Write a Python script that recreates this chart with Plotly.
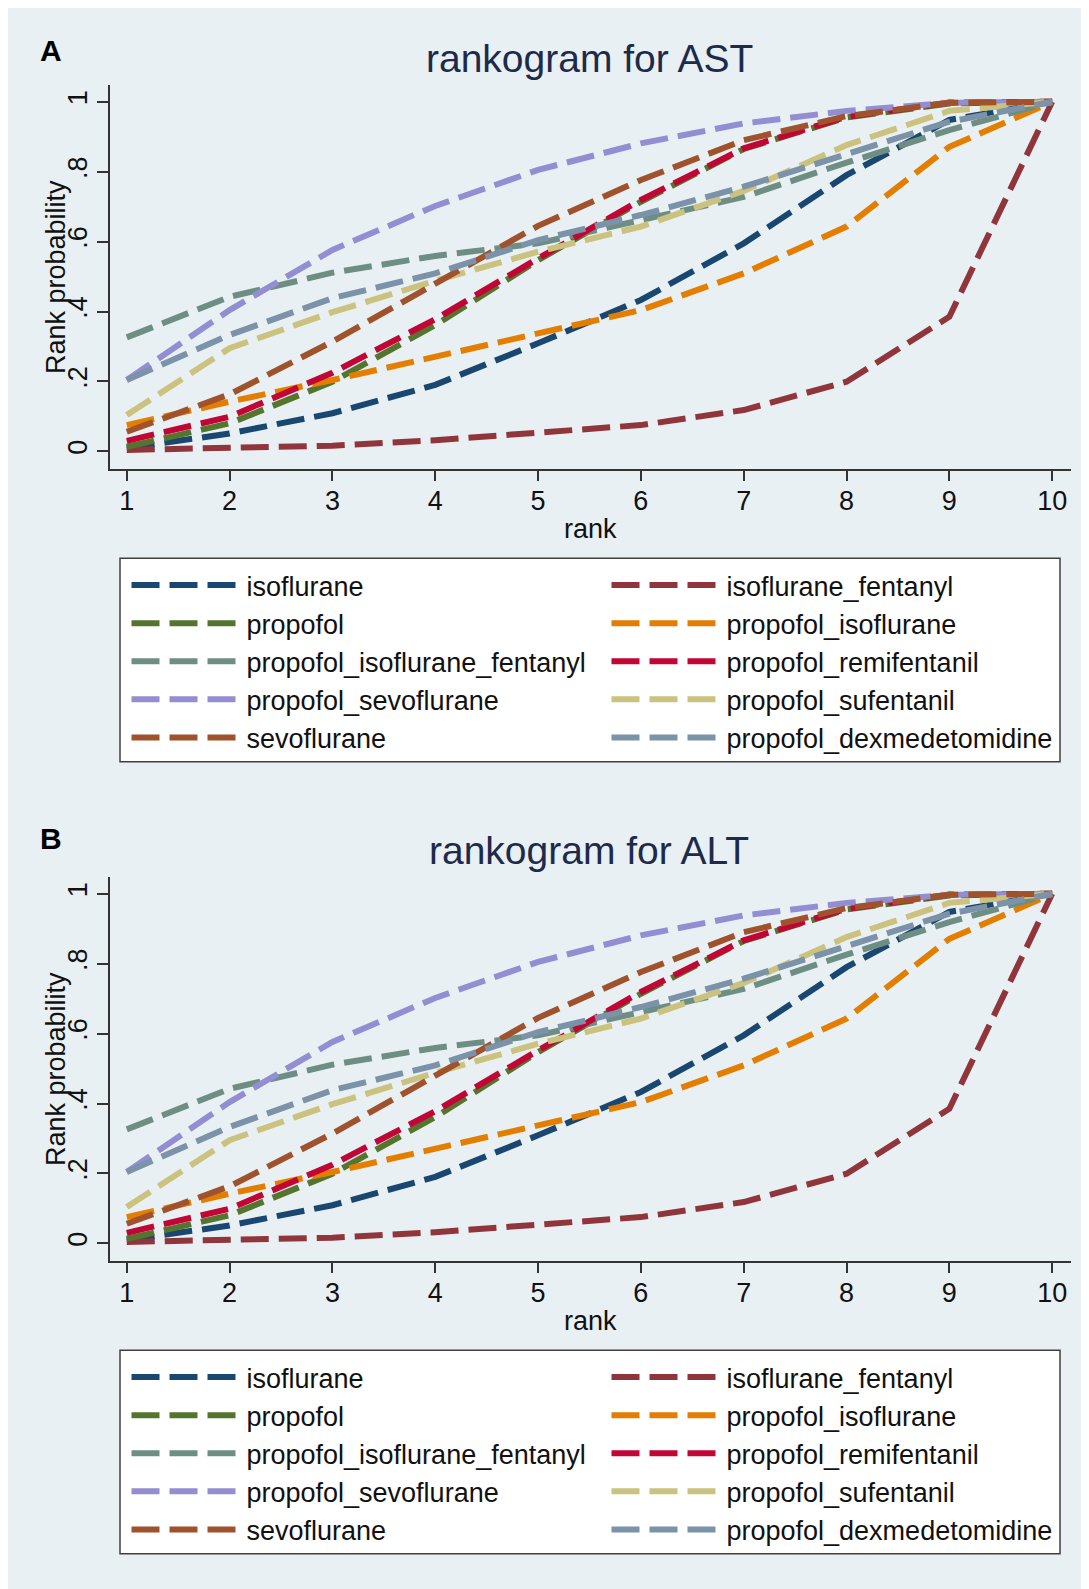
import plotly.graph_objects as go

# The page body adds an 8px margin, so the figure is drawn 8px in from the top-left.
OFF = 8
W, H = 1089 - OFF, 1589 - OFF

ranks = [1, 2, 3, 4, 5, 6, 7, 8, 9, 10]

series_names = [
    "isoflurane", "isoflurane_fentanyl", "propofol", "propofol_isoflurane",
    "propofol_isoflurane_fentanyl", "propofol_remifentanil", "propofol_sevoflurane",
    "propofol_sufentanil", "sevoflurane", "propofol_dexmedetomidine",
]

# cumulative rank probabilities (AST)
isoflurane = [0.009, 0.051, 0.109, 0.19, 0.309, 0.433, 0.595, 0.79, 0.948, 1.0]
isoflurane_fentanyl = [0.004, 0.009, 0.016, 0.032, 0.053, 0.075, 0.118, 0.199, 0.385, 1.0]
propofol = [0.013, 0.08, 0.199, 0.361, 0.547, 0.714, 0.865, 0.955, 0.995, 1.0]
propofol_isoflurane = [0.075, 0.142, 0.204, 0.271, 0.337, 0.404, 0.509, 0.643, 0.871, 1.0]
propofol_isoflurane_fentanyl = [0.326, 0.442, 0.511, 0.559, 0.595, 0.663, 0.728, 0.826, 0.919, 1.0]
propofol_remifentanil = [0.03, 0.099, 0.225, 0.378, 0.552, 0.719, 0.867, 0.957, 0.998, 1.0]
propofol_sevoflurane = [0.204, 0.404, 0.576, 0.702, 0.805, 0.881, 0.938, 0.974, 0.997, 1.0]
propofol_sufentanil = [0.104, 0.295, 0.398, 0.488, 0.571, 0.643, 0.745, 0.876, 0.974, 1.0]
sevoflurane = [0.056, 0.163, 0.314, 0.48, 0.645, 0.776, 0.89, 0.959, 0.997, 1.0]
propofol_dexmedetomidine = [0.204, 0.333, 0.438, 0.509, 0.604, 0.676, 0.757, 0.848, 0.943, 1.0]

ast_values = [isoflurane, isoflurane_fentanyl, propofol, propofol_isoflurane,
              propofol_isoflurane_fentanyl, propofol_remifentanil, propofol_sevoflurane,
              propofol_sufentanil, sevoflurane, propofol_dexmedetomidine]
# ALT panel shows the same curves
alt_values = [list(v) for v in ast_values]

colors = ["#1a476f", "#90353b", "#55752f", "#e37e00", "#6e8e84",
          "#c10534", "#938dd2", "#cac27e", "#a0522d", "#7b92a8"]

ytick_vals = [0, 0.2, 0.4, 0.6, 0.8, 1]
ytick_text = ["0", ".2", ".4", ".6", ".8", "1"]

FONT = "Arial, Liberation Sans, sans-serif"
BG = "#e8f0f3"
AXC = "#333333"


def px_x(x):
    return (x - OFF) / W


def px_y(y):
    return 1 - (y - OFF) / H


fig = go.Figure()

panels = [
    dict(values=ast_values, xa="x", ya="y", legend="legend"),
    dict(values=alt_values, xa="x2", ya="y2", legend="legend2"),
]
for p in panels:
    for name, vals, col in zip(series_names, p["values"], colors):
        fig.add_trace(go.Scatter(
            x=ranks, y=vals, mode="lines", name=name,
            line=dict(color=col, width=6, dash="28px,10px"),
            xaxis=p["xa"], yaxis=p["ya"], legend=p["legend"],
        ))

xdom = [px_x(109.6), px_x(1071)]
top_offset = 792
ydomA = [px_y(469), px_y(85)]
ydomB = [px_y(469 + top_offset), px_y(85 + top_offset)]


def xaxis_cfg(anchor):
    return dict(domain=xdom, range=[0.833, 10.183], anchor=anchor,
                tickvals=ranks, ticks="outside", ticklen=10.5, tickwidth=1.5,
                tickcolor=AXC, showline=True, linecolor=AXC, linewidth=1.5,
                showgrid=False, zeroline=False, ticklabelstandoff=-4,
                tickfont=dict(size=27, family=FONT, color="#111111"))


def yaxis_cfg(anchor, dom):
    return dict(domain=dom, range=[-0.0506, 1.048], anchor=anchor,
                tickvals=ytick_vals, ticktext=ytick_text, tickangle=-90,
                ticks="outside", ticklen=10.5, tickwidth=1.5, tickcolor=AXC,
                showline=True, linecolor=AXC, linewidth=1.5,
                showgrid=True, gridcolor=BG, gridwidth=2, zeroline=False,
                tickfont=dict(size=27, family=FONT, color="#111111"))


def legend_cfg(top):
    return dict(x=px_x(126.5), y=px_y(top), xanchor="left", yanchor="top",
                orientation="h", entrywidth=355, entrywidthmode="pixels",
                itemwidth=110, traceorder="normal",
                font=dict(size=27, family=FONT, color="#111111"),
                bgcolor="rgba(0,0,0,0)", borderwidth=0)


annotations = []
shapes = [dict(type="rect", xref="paper", yref="paper",
               x0=px_x(8), x1=px_x(1082), y0=px_y(1589), y1=px_y(8),
               fillcolor=BG, line=dict(width=0), layer="below")]

for dy, title, letter, ly in [(0, "rankogram for AST", "A", 50.0),
                              (top_offset, "rankogram for ALT", "B", 838.0)]:
    annotations.append(dict(text=title, x=px_x(589), y=px_y(58.5 + dy), xref="paper", yref="paper",
                            showarrow=False, xanchor="center", yanchor="middle",
                            font=dict(size=39, family=FONT, color="#1e2a4a")))
    annotations.append(dict(text="<b>%s</b>" % letter, x=px_x(50.5), y=px_y(ly), xref="paper", yref="paper",
                            showarrow=False, xanchor="center", yanchor="middle",
                            font=dict(size=30, family=FONT, color="#000000")))
    annotations.append(dict(text="rank", x=px_x(590), y=px_y(529 + dy), xref="paper", yref="paper",
                            showarrow=False, xanchor="center", yanchor="middle",
                            font=dict(size=27, family=FONT, color="#111111")))
    annotations.append(dict(text="Rank probability", x=px_x(56), y=px_y(277 + dy), xref="paper", yref="paper",
                            showarrow=False, xanchor="center", yanchor="middle", textangle=-90,
                            font=dict(size=27, family=FONT, color="#111111")))
    # legend frame
    shapes.append(dict(type="rect", xref="paper", yref="paper",
                       x0=px_x(120), x1=px_x(1060), y0=px_y(761.7 + dy), y1=px_y(558.3 + dy),
                       fillcolor="white", line=dict(color="#404040", width=1.5), layer="below"))

fig.update_layout(
    width=W, height=H,
    margin=dict(l=0, r=0, t=0, b=0),
    paper_bgcolor="white", plot_bgcolor="white",
    xaxis=xaxis_cfg("y"), yaxis=yaxis_cfg("x", ydomA),
    xaxis2=xaxis_cfg("y2"), yaxis2=yaxis_cfg("x2", ydomB),
    legend=legend_cfg(561), legend2=legend_cfg(561 + top_offset),
    annotations=annotations,
    shapes=shapes,
    showlegend=True,
)

fig.write_html("out.html")
